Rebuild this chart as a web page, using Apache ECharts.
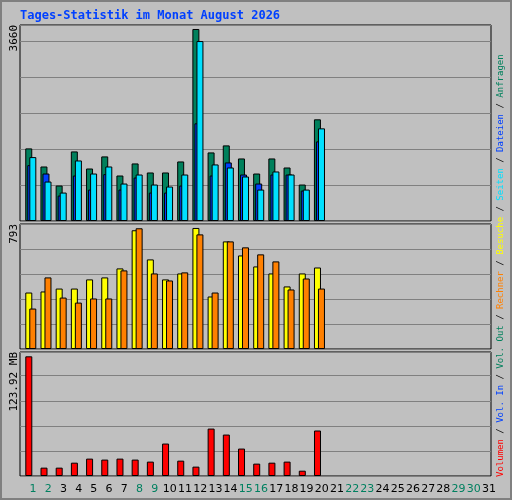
<!DOCTYPE html>
<html><head><meta charset="utf-8">
<script src="https://cdn.jsdelivr.net/npm/echarts@6/dist/echarts.min.js"></script>
<style>html,body{margin:0;padding:0;background:#c0c0c0}#c{width:512px;height:500px}</style>
</head><body><div id="c"></div>
<script>
const days = Array.from({length:31},(_,i)=>String(i+1));
const weekendDays = ['1','2','8','9','15','16','22','23','29','30'];
const hits  = [1384,1039,676,1326,1001,1231,867,1097,925,925,1135,3660,1307,1441,1192,905,1192,1020,695,1938];
const files = [1065,905,485,867,599,893,599,829,542,542,676,1862,867,1116,886,714,886,886,580,1517];
const pages = [1218,752,542,1154,905,1039,714,886,695,657,886,3430,1078,1020,848,599,944,886,599,1766];
const visits= [370,377,396,396,456,469,528,778,587,456,495,793,344,705,613,541,495,410,495,534];
const sites = [265,469,337,304,331,331,515,791,495,449,502,751,370,705,666,620,574,390,462,396];
const volume= [123.92,8.65,8.65,13.8,18.0,17.0,18.0,17.0,14.9,33.6,15.9,9.7,49.1,42.9,28.4,12.8,13.8,14.9,5.5,47.1];
const maxLabels = ['3660','793','123.92 MB'];
const title = 'Tages-Statistik im Monat August 2026';

const pts = a => a.map((v,i)=>[i+1,v]);
const mono = 'DejaVu Sans Mono';
const bs = c => ({color:c,borderColor:'#000',borderWidth:1});
const gridBase = {left:20,width:471,show:true,backgroundColor:'#c0c0c0',borderColor:'#000',borderWidth:1};
const xv = (gi,min) => ({type:'value',gridIndex:gi,min:min,max:min+31,show:false,splitLine:{show:false}});
const yv = (gi,max,iv) => ({type:'value',gridIndex:gi,min:0,max:max,interval:iv,
  axisLabel:{show:false},axisLine:{show:false},axisTick:{show:false},
  splitLine:{show:true,lineStyle:{color:'#808080',width:1}}});

const chart = echarts.init(document.getElementById('c'));
chart.setOption({
  animation:false,
  backgroundColor:'#c0c0c0',
  grid:[
    Object.assign({top:25,height:196},gridBase),
    Object.assign({top:224,height:125},gridBase),
    Object.assign({top:352,height:124},gridBase)
  ],
  xAxis:[
    xv(0,0.29), xv(1,0.29), xv(2,0.42),
    {type:'category',gridIndex:2,data:days,boundaryGap:true,position:'bottom',
     axisLine:{show:false},axisTick:{show:false},
     axisLabel:{interval:0,margin:8,padding:[0,0,0,11],fontFamily:'DejaVu Sans',fontSize:11,
       color:(v)=>weekendDays.includes(v)?'#008060':'#000'}}
  ],
  yAxis:[yv(0,3736,686), yv(1,819,164), yv(2,128.4,25.96)],
  series:[
    {type:'bar',xAxisIndex:0,yAxisIndex:0,data:pts(hits),barWidth:7,barGap:'-71%',itemStyle:bs('#00805c')},
    {type:'bar',xAxisIndex:0,yAxisIndex:0,data:pts(files),barWidth:7,barGap:'-71%',itemStyle:bs('#0040ff')},
    {type:'bar',xAxisIndex:0,yAxisIndex:0,data:pts(pages),barWidth:7,barGap:'-71%',itemStyle:bs('#00e0ff')},
    {type:'bar',xAxisIndex:1,yAxisIndex:1,data:pts(visits),barWidth:7,barGap:'-43%',itemStyle:bs('#ffff00')},
    {type:'bar',xAxisIndex:1,yAxisIndex:1,data:pts(sites),barWidth:7,barGap:'-43%',itemStyle:bs('#ff8000')},
    {type:'bar',xAxisIndex:2,yAxisIndex:2,data:pts(volume),barWidth:7,itemStyle:bs('#ff0000')}
  ],
  graphic:[
    {type:'rect',shape:{x:1,y:1,width:510,height:498},style:{fill:'none',stroke:'#808080',lineWidth:2},z:100},
    {type:'text',x:20,y:16,style:{text:title,fill:'#0040ff',font:'bold 12px "DejaVu Sans Mono"',verticalAlign:'middle'}},
    {type:'text',x:14,y:25,rotation:Math.PI/2,style:{text:maxLabels[0],fill:'#000',font:'11px "DejaVu Sans Mono"',align:'right',verticalAlign:'middle'}},
    {type:'text',x:14,y:224,rotation:Math.PI/2,style:{text:maxLabels[1],fill:'#000',font:'11px "DejaVu Sans Mono"',align:'right',verticalAlign:'middle'}},
    {type:'text',x:14,y:352,rotation:Math.PI/2,style:{text:maxLabels[2],fill:'#000',font:'11px "DejaVu Sans Mono"',align:'right',verticalAlign:'middle'}},
    {type:'text',x:501,y:477,rotation:Math.PI/2,style:{
      text:'{r|Volumen} / {b|Vol. In} / {g|Vol. Out} / {o|Rechner} / {y|Besuche} / {c|Seiten} / {b|Dateien} / {g|Anfragen}',
      fill:'#000',font:'9px "DejaVu Sans Mono"',align:'left',verticalAlign:'middle',
      rich:{r:{fill:'#ff0000',fontFamily:mono,fontSize:9},b:{fill:'#0040ff',fontFamily:mono,fontSize:9},
            g:{fill:'#00805c',fontFamily:mono,fontSize:9},o:{fill:'#ff8000',fontFamily:mono,fontSize:9},
            y:{fill:'#ffff00',fontFamily:mono,fontSize:9},c:{fill:'#00e0ff',fontFamily:mono,fontSize:9}}}}
  ]
});
</script></body></html>
